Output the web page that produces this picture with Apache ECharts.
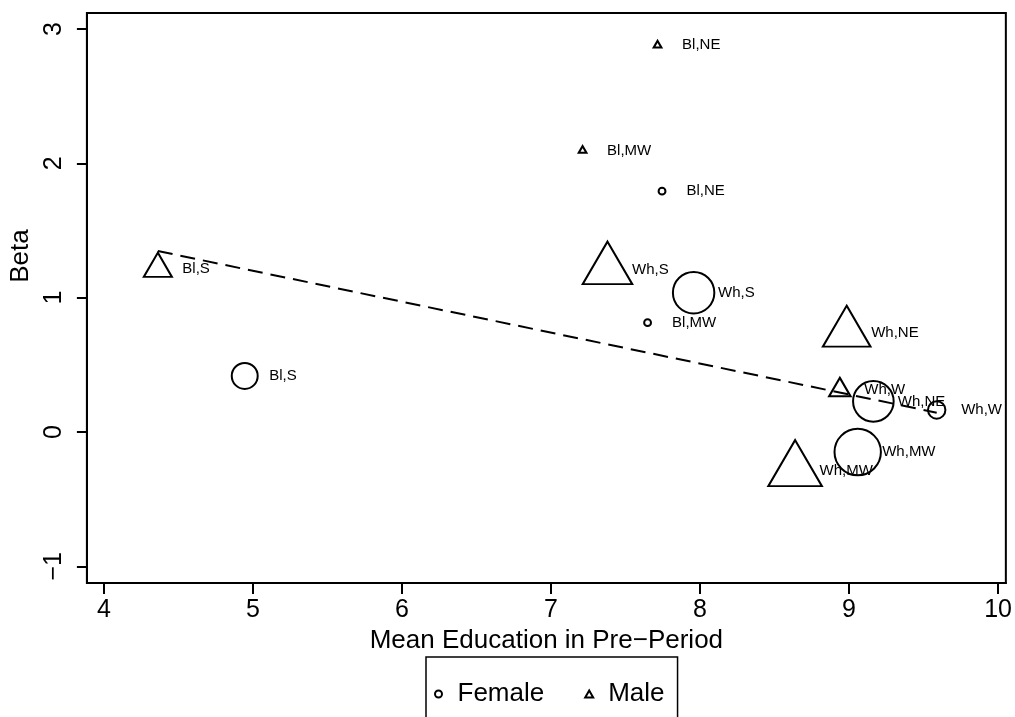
<!DOCTYPE html>
<html><head><meta charset="utf-8">
<script src="https://cdn.jsdelivr.net/npm/echarts@6/dist/echarts.min.js"></script>
<style>html,body{margin:0;padding:0;background:#fff}#c{width:1015px;height:717px}</style>
</head><body><div id="c"></div>
<script>
// ---- data ----
const regionLabels = ['Bl,S', 'Bl,NE', 'Bl,MW', 'Wh,S', 'Wh,NE', 'Wh,W', 'Wh,MW'];
const femaleEdu    = [4.945, 7.745, 7.648, 7.957, 9.163, 9.588, 9.058];
const femaleBeta   = [0.417, 1.793, 0.814, 1.037, 0.228, 0.164, -0.149];
const femaleWeight = [20, 1.4, 1.4, 51, 49, 9, 64];
const maleEdu      = [4.362, 7.715, 7.212, 7.379, 8.984, 8.938, 8.638];
const maleBeta     = [1.215, 2.879, 2.095, 1.206, 0.737, 0.312, -0.289];
const maleWeight   = [17, 1.3, 1.3, 53, 49, 10, 62];
const fitEdu       = [4.362, 9.588];
const fitBeta      = [1.347, 0.144];
const xTicks = [4, 5, 6, 7, 8, 9, 10];
const yTicks = [-1, 0, 1, 2, 3];

const FONT = "'Liberation Sans', Arial, Helvetica, sans-serif";
const circleSize = w => 5.8 * Math.sqrt(w);
const triWidth = w => 6.8 * Math.sqrt(w);
const fmt = v => (v < 0 ? '\u2212' + Math.abs(v) : String(v));

const labelBase = {
  show: true, position: 'inside', align: 'left', verticalAlign: 'middle',
  formatter: '{b}', color: '#000', fontSize: 15, fontFamily: FONT, opacity: 1
};

const femaleData = femaleEdu.map((x, i) => ({
  name: regionLabels[i], value: [x, femaleBeta[i]],
  symbolSize: circleSize(femaleWeight[i]),
  label: Object.assign({}, labelBase, { offset: [24.5, 0] })
}));
const maleData = maleEdu.map((x, i) => {
  const w = triWidth(maleWeight[i]);
  const h = w * 0.86;
  return {
    name: regionLabels[i], value: [x, maleBeta[i]],
    symbolSize: [w, h], symbolOffset: [0, -h / 6],
    label: Object.assign({}, labelBase, { offset: [24.5, h / 6] })
  };
});

const chart = echarts.init(document.getElementById('c'), null, { renderer: 'canvas' });
chart.setOption({
  animation: false,
  backgroundColor: '#fff',
  textStyle: { fontFamily: FONT },
  grid: { left: 86, right: 9, top: 13, bottom: 134, show: true, borderColor: '#000', borderWidth: 2, backgroundColor: 'transparent' },
  xAxis: {
    type: 'value', min: 3.886, max: 10.052,
    axisLine: { show: true, onZero: false, lineStyle: { color: '#000', width: 2 } },
    axisTick: { show: true, length: 11, customValues: xTicks, lineStyle: { color: '#000', width: 2 } },
    axisLabel: { customValues: xTicks, fontSize: 25, margin: 15, color: '#000', fontFamily: FONT, formatter: fmt },
    splitLine: { show: false },
    name: 'Mean Education in Pre\u2212Period', nameLocation: 'middle', nameGap: 40,
    nameTextStyle: { fontSize: 26, color: '#000', fontFamily: FONT }
  },
  yAxis: {
    type: 'value', min: -1.124, max: 3.119,
    axisLine: { show: true, onZero: false, lineStyle: { color: '#000', width: 2 } },
    axisTick: { show: true, length: 10, customValues: yTicks, lineStyle: { color: '#000', width: 2 } },
    axisLabel: { customValues: yTicks, rotate: 90, fontSize: 25, margin: 20, color: '#000', fontFamily: FONT, formatter: fmt },
    splitLine: { show: false },
    name: 'Beta', nameLocation: 'middle', nameGap: 49, nameRotate: 90,
    nameTextStyle: { fontSize: 26, color: '#000', fontFamily: FONT, padding: [0, 0, 0, 84] }
  },
  legend: {
    data: [{ name: 'Female', icon: 'circle' }, { name: 'Male', icon: 'triangle' }],
    left: 426, top: 657,
    padding: [24, 13, 40, 8],
    itemWidth: 8, itemHeight: 7, itemGap: 40,
    borderColor: '#000', borderWidth: 1.5,
    textStyle: { fontSize: 26, color: '#000', fontFamily: FONT, padding: [0, 0, 0, 10] },
    selectedMode: false
  },
  series: [
    {
      name: 'Female', type: 'scatter', symbol: 'circle',
      itemStyle: { color: 'rgba(0,0,0,0)', borderColor: '#000', borderWidth: 2, opacity: 1 },
      emphasis: { disabled: true },
      data: femaleData
    },
    {
      name: 'Male', type: 'scatter', symbol: 'triangle',
      itemStyle: { color: 'rgba(0,0,0,0)', borderColor: '#000', borderWidth: 2, opacity: 1 },
      emphasis: { disabled: true },
      data: maleData
    },
    {
      name: 'Fit', type: 'line', showSymbol: false, symbol: 'none', silent: true,
      lineStyle: { color: '#000', width: 2, type: [15, 8] },
      data: fitEdu.map((x, i) => [x, fitBeta[i]])
    }
  ]
});
</script>
</body></html>
